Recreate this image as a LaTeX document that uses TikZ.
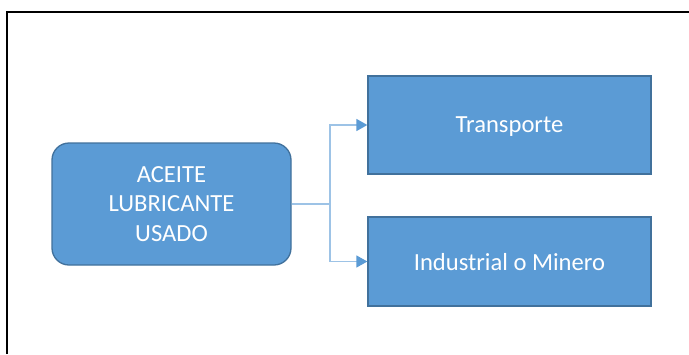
\documentclass[tikz,border=0pt]{standalone}
\usepackage{fontspec}
\setmainfont{Carlito}
\usetikzlibrary{arrows.meta}
\definecolor{boxfill}{HTML}{5B9BD5}
\definecolor{boxline}{HTML}{41719C}
\definecolor{conline}{HTML}{9DC3E6}
\definecolor{conhead}{HTML}{5B9BD5}
\tikzset{
  blockbox/.style={draw=boxline, fill=boxfill, line width=1.3pt, inner sep=0pt,
    text=white, align=center, font=\fontsize{24.6}{29.3}\selectfont},
  conn/.style={draw=conline, line width=1.4pt,
    -{Triangle[length=11pt,width=12pt,color=conhead]}},
  frameline/.style={draw=black, line width=2pt}
}
\begin{document}
\begin{tikzpicture}[x=1pt,y=-1pt]
\useasboundingbox (0,0) rectangle (689,354);
\fill[white] (0,0) rectangle (689,354);
\coordinate (fa) at (7,354);
\coordinate (fb) at (7,12);
\coordinate (fc) at (689,12);
\draw[frameline] (fa) -- (fb) -- (fc);
\node[blockbox, rounded corners=17pt, minimum width=239pt, minimum height=122pt] (a) at (171.5,204) {ACEITE\\LUBRICANTE\\USADO};
\node[blockbox, text depth=0pt, minimum width=283pt, minimum height=98pt] (t) at (509.5,125) {Transporte};
\node[blockbox, text depth=0pt, minimum width=283pt, minimum height=89pt] (i) at (509.5,261.5) {Industrial o Minero};
\coordinate (j) at (330,204);
\draw[draw=conline, line width=1.4pt] (a.east) -- (j);
\draw[conn] (j) |- (t.west);
\draw[conn] (j) |- (i.west);
\end{tikzpicture}
\end{document}
